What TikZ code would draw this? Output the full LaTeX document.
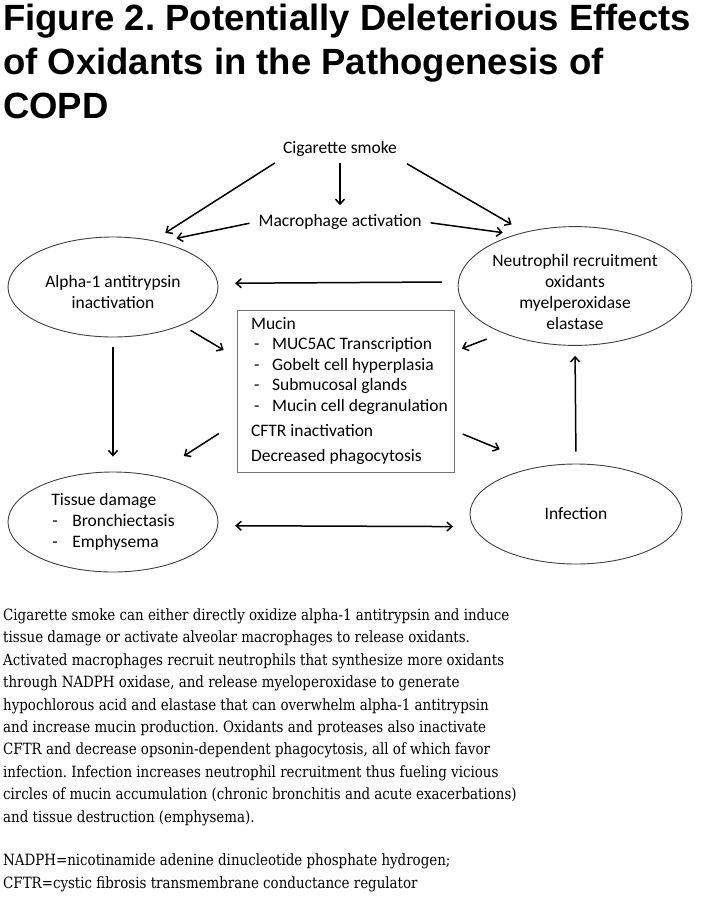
\documentclass[tikz,border=0pt]{standalone}
\usepackage{fontspec}
\setmainfont{DejaVu Serif}[FakeStretch=0.865]
\newfontfamily\titlefont{Liberation Sans}
\newfontfamily\figfont{Carlito}
\usepackage{tikz}
\usetikzlibrary{shapes.geometric, arrows.meta}
\frenchspacing

% text of the upper ellipses sits a little below their centre
\newcommand{\bubbletext}[2]{\raisebox{-#1}[\height][\depth]{\begin{tabular}{@{}c@{}}#2\end{tabular}}}

\begin{document}
\begin{tikzpicture}[
  x=1pt, y=-1pt,
  bubble/.style={
    ellipse,
    draw=black!75,
    line width=0.9pt,
    inner sep=0pt,
    font=\figfont\fontsize{17.5}{21}\selectfont,
    align=center
  },
  plainlabel/.style={
    font=\figfont\fontsize{17.5}{21}\selectfont,
    inner sep=3pt
  },
  listbox/.style={
    draw=black!55,
    line width=0.9pt,
    minimum width=217pt,
    minimum height=162pt,
    inner xsep=0pt,
    font=\figfont\fontsize{17.5}{20.5}\selectfont
  },
  link/.style={
    line width=1.5pt,
    -{Straight Barb[length=5pt,width=9pt]}
  },
  bodytext/.style={
    font=\fontsize{15.5}{22.4}\selectfont,
    align=left,
    inner sep=0pt,
    anchor=north west
  }
]

\useasboundingbox[fill=white] (0,0) rectangle (705,900);

% title
\node[font=\titlefont\bfseries\fontsize{36.5}{44}\selectfont, align=left,
  inner sep=0pt, anchor=north west] (title) at (3,4)
  {Figure 2. Potentially Deleterious Effects\\
   of Oxidants in the Pathogenesis of\\
   COPD};

% diagram
\node[plainlabel] (smoke) at (340,149) {Cigarette smoke};
\node[plainlabel] (macro) at (340,222) {Macrophage activation};

\node[bubble, minimum width=210pt, minimum height=100pt] (alpha) at (113,287)
  {\bubbletext{7pt}{Alpha-1 antitrypsin\\inactivation}};
\node[bubble, minimum width=214pt, minimum height=98pt] (neut) at (575,286)
  {\bubbletext{8pt}{Neutrophil recruitment\\oxidants\\myelperoxidase\\elastase}};
\node[bubble, minimum width=210pt, minimum height=100pt, align=left] (tissue) at (113,522)
  {Tissue damage\\
   \hspace*{1pt}\makebox[20pt][l]{-}Bronchiectasis\\
   \hspace*{1pt}\makebox[20pt][l]{-}Emphysema};
\node[bubble, minimum width=212pt, minimum height=100pt] (infect) at (576,514)
  {Infection};

\node[listbox] (mucin) at (345.5,391)
  {\begin{tabular}{@{\hspace{8pt}}l@{}}
   Mucin\\
   \hspace*{3pt}\makebox[18pt][l]{-}MUC5AC Transcription\\
   \hspace*{3pt}\makebox[18pt][l]{-}Gobelt cell hyperplasia\\
   \hspace*{3pt}\makebox[18pt][l]{-}Submucosal glands\\
   \hspace*{3pt}\makebox[18pt][l]{-}Mucin cell degranulation\\[5pt]
   CFTR inactivation\\[4pt]
   Decreased phagocytosis
   \end{tabular}};

\draw[link, shorten <=3pt, shorten >=6pt] (smoke.south) -- (macro.north);
\draw[link, shorten <=6pt, shorten >=14pt] (smoke.south west) -- (alpha.49);
\draw[link, shorten <=8pt, shorten >=15pt] (smoke.south east) -- (neut.133);
\draw[link, shorten <=6pt, shorten >=17pt] (macro.west) -- (alpha.44);
\draw[link, shorten <=6pt, shorten >=13pt] (macro.east) -- (neut.139);
\draw[link, shorten <=16pt, shorten >=17pt] (neut.178) -- (alpha.2);
\draw[link, shorten <=10pt, shorten >=15pt] (alpha.south) -- (tissue.north);
\draw[link, shorten <=10pt, shorten >=15pt] (alpha.-29) -- (mucin.163);
\draw[link, shorten <=17pt, shorten >=8pt] (neut.213) -- (mucin.20);
\draw[link, shorten <=21pt, shorten >=36pt] (mucin.196) -- (tissue.49);
\draw[link, shorten <=9pt, shorten >=45pt] (mucin.340) -- (infect.126);
\draw[link, shorten <=12pt, shorten >=10pt] (infect.north) -- (neut.south);
\draw[link, {Straight Barb[length=5pt,width=9pt]}-{Straight Barb[length=5pt,width=9pt]},
  shorten <=17pt, shorten >=20pt] (tissue.-2) -- (infect.187);

% caption
\node[bodytext] (caption) at (3,608.5)
  {Cigarette smoke can either directly oxidize alpha-1 antitrypsin and induce\\
   tissue damage or activate alveolar macrophages to release oxidants.\\
   Activated macrophages recruit neutrophils that synthesize more oxidants\\
   through NADPH oxidase, and release myeloperoxidase to generate\\
   hypochlorous acid and elastase that can overwhelm alpha-1 antitrypsin\\
   and increase mucin production. Oxidants and proteases also inactivate\\
   CFTR and decrease opsonin-dependent phagocytosis, all of which favor\\
   infection. Infection increases neutrophil recruitment thus fueling vicious\\
   circles of mucin accumulation (chronic bronchitis and acute exacerbations)\\
   and tissue destruction (emphysema).};
\node[bodytext] (abbrev) at (3,854)
  {NADPH=nicotinamide adenine dinucleotide phosphate hydrogen;\\
   CFTR=cystic fibrosis transmembrane conductance regulator};

\end{tikzpicture}
\end{document}
